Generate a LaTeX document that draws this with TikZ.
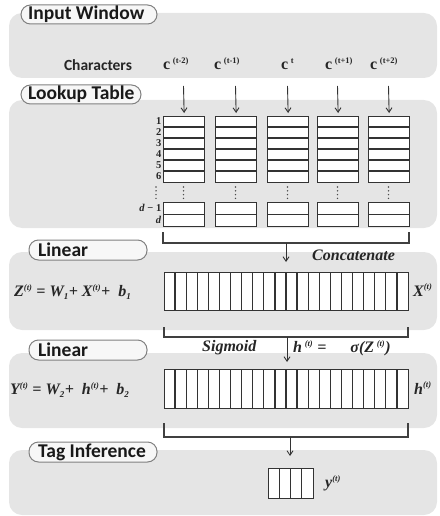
\documentclass[tikz,border=0pt]{standalone}
\usepackage{fontspec}
\setmainfont{Liberation Serif}
\newfontfamily\pillfont{Carlito}
\usetikzlibrary{arrows.meta,calc}
\newcommand{\supr}[1]{\textsuperscript{\fontsize{8.5}{8.5}\selectfont #1}}
\newcommand{\subr}[1]{\textsubscript{\fontsize{9}{9}\selectfont #1}}
\begin{document}
\begin{tikzpicture}[x=1pt,y=-1pt,
  panel/.style={fill=black!10, draw=none, rounded corners=13pt},
  pillshape/.style={draw=black!50, fill=black!3, line width=1pt, rounded corners=9.5pt},
  pilltext/.style={font=\pillfont\bfseries\fontsize{19.5}{19.5}\selectfont, anchor=west, inner sep=0pt, text=black!90},
  sanslbl/.style={font=\pillfont\bfseries\fontsize{15.5}{16}\selectfont, inner sep=0pt, text=black!85},
  mlbl/.style={font=\bfseries\itshape\fontsize{16}{16}\selectfont, inner sep=0pt, text=black!85},
  clbl/.style={font=\bfseries\fontsize{16}{16}\selectfont, inner sep=0pt, text=black!85},
  rowlbl/.style={font=\bfseries\fontsize{10.5}{10.5}\selectfont, inner sep=0pt, text=black!85},
  cellbox/.style={draw=black!80, line width=1.4pt, fill=white, inner sep=0pt, anchor=north west},
  cellline/.style={draw=black!80, line width=1.2pt},
  brk/.style={draw=black!75, line width=1.2pt},
  arr/.style={draw=black!80, line width=0.9pt, -{Straight Barb[length=4.5pt,width=6pt]}},
]
\useasboundingbox (0,0) rectangle (439,516);

% panels
\fill[panel] (9,13) rectangle (437,78);
\fill[panel] (9,100) rectangle (437,228);
\fill[panel] (9,252) rectangle (437,330);
\fill[panel] (9,353) rectangle (437,428);
\fill[panel] (9,450) rectangle (437,515);

% pills
\draw[pillshape] (21,5) rectangle (157,24);
\node[pilltext] (piw) at (28,14.5) {Input Window};
\draw[pillshape] (21,85) rectangle (141,104);
\node[pilltext] (plt) at (28,94.5) {Lookup Table};
\draw[pillshape] (29,240) rectangle (147,260);
\node[pilltext] (pl1) at (38,250) {Linear};
\draw[pillshape] (29,340) rectangle (147,360);
\node[pilltext] (pl2) at (38,350) {Linear};
\draw[pillshape] (29,442) rectangle (157,462);
\node[pilltext] (pti) at (38,452) {Tag Inference};

% input window
\node[sanslbl] (chars) at (98,65) {Characters};
\node[clbl, anchor=base west] (c1) at (163,70) {c\,\supr{(t-2)}};
\node[clbl, anchor=base west] (c2) at (214,70) {c\,\supr{(t-1)}};
\node[clbl, anchor=base west] (c3) at (281,70) {c\,\supr{t}};
\node[clbl, anchor=base west] (c4) at (325,70) {c\,\supr{(t+1)}};
\node[clbl, anchor=base west] (c5) at (370,70) {c\,\supr{(t+2)}};

% lookup tables
\foreach \i/\x in {1/163,2/215,3/267,4/317,5/368} {
  \node[cellbox, minimum width=41pt, minimum height=66pt] (top\i) at (\x,116) {};
  \foreach \k in {1,...,5} {
    \draw[cellline] ($(top\i.north west)+(0,11*\k)$) -- ++(41,0);
  }
  \node[cellbox, minimum width=41pt, minimum height=24pt] (bot\i) at (\x,202) {};
  \draw[cellline] (bot\i.west) -- (bot\i.east);
  \coordinate (a\i) at (\x+20.5,86);
  \draw[arr, shorten >=3pt] (a\i) -- (top\i.north);
  \foreach \d in {0,1,2,3} {
    \fill[black!70] (\x+20.5,187+3.8*\d) circle (0.8pt);
  }
}
\foreach \d in {0,1,2,3} {
  \fill[black!70] (156,187+3.8*\d) circle (0.8pt);
}
\foreach \k in {1,...,6} {
  \node[rowlbl, anchor=east] (r\k) at (161.5,116+11*\k-5.5) {\k};
}
\node[rowlbl, anchor=east] (rd1) at (161.5,208) {\textit{d} − 1};
\node[rowlbl, anchor=east] (rd) at (161.5,220) {\textit{d}};

% bracket 1
\coordinate (b1l) at (163,232);
\coordinate (b1r) at (409,232);
\coordinate (b1m) at (286,243);
\draw[brk] (b1l) -- (163,243) -- (409,243) -- (b1r);

% linear 1
\node[cellbox, minimum width=244pt, minimum height=38pt] (xv) at (164,272) {};
\foreach \k in {1,...,21} {
  \draw[cellline] ($(xv.north west)+(244/22*\k,0)$) -- ++(0,38);
}
\draw[arr, shorten >=10pt] (b1m) -- (b1m |- xv.north);
\node[mlbl, anchor=west] (concat) at (312,255) {Concatenate};
\node[mlbl, anchor=west] (zeq) at (14,292) {Z\supr{(t)} = W\subr{1}+ X\supr{(t)}+ \ b\subr{1}};
\node[mlbl, anchor=west] (xlbl) at (413,290) {X\supr{(t)}};

% bracket 2
\coordinate (b2l) at (164,327);
\coordinate (b2r) at (408,327);
\coordinate (b2m) at (287,337);
\draw[brk] (b2l) -- (164,337) -- (408,337) -- (b2r);

% linear 2
\node[cellbox, minimum width=244pt, minimum height=39pt] (hv) at (164,369) {};
\foreach \k in {1,...,21} {
  \draw[cellline] ($(hv.north west)+(244/22*\k,0)$) -- ++(0,39);
}
\draw[arr, shorten >=7pt] (b2m) -- (b2m |- hv.north);
\node[mlbl, anchor=west] (sig) at (202,348) {Sigmoid};
\node[mlbl, anchor=west] (heq) at (293,348) {h\,\supr{(t)} =\hspace{24pt}σ(Z\,\supr{(t)})};
\node[mlbl, anchor=west] (yeq) at (10,390) {Y\supr{(t)} = W\subr{2}+ \ h\supr{(t)}+ \ b\subr{2}};
\node[mlbl, anchor=west] (hlbl) at (414,388) {h\supr{(t)}};

% bracket 3
\coordinate (b3l) at (164,423);
\coordinate (b3r) at (408,423);
\coordinate (b3m) at (290,437);
\draw[brk] (b3l) -- (164,437) -- (408,437) -- (b3r);

% tag inference
\node[cellbox, minimum width=45pt, minimum height=30pt] (yv) at (268,468) {};
\foreach \k in {1,2,3} {
  \draw[cellline] ($(yv.north west)+(45/4*\k,0)$) -- ++(0,30);
}
\draw[arr, shorten >=12pt] (b3m) -- (b3m |- yv.north);
\node[mlbl, anchor=west] (ylbl) at (325,483) {y\supr{(t)}};
\end{tikzpicture}
\end{document}
